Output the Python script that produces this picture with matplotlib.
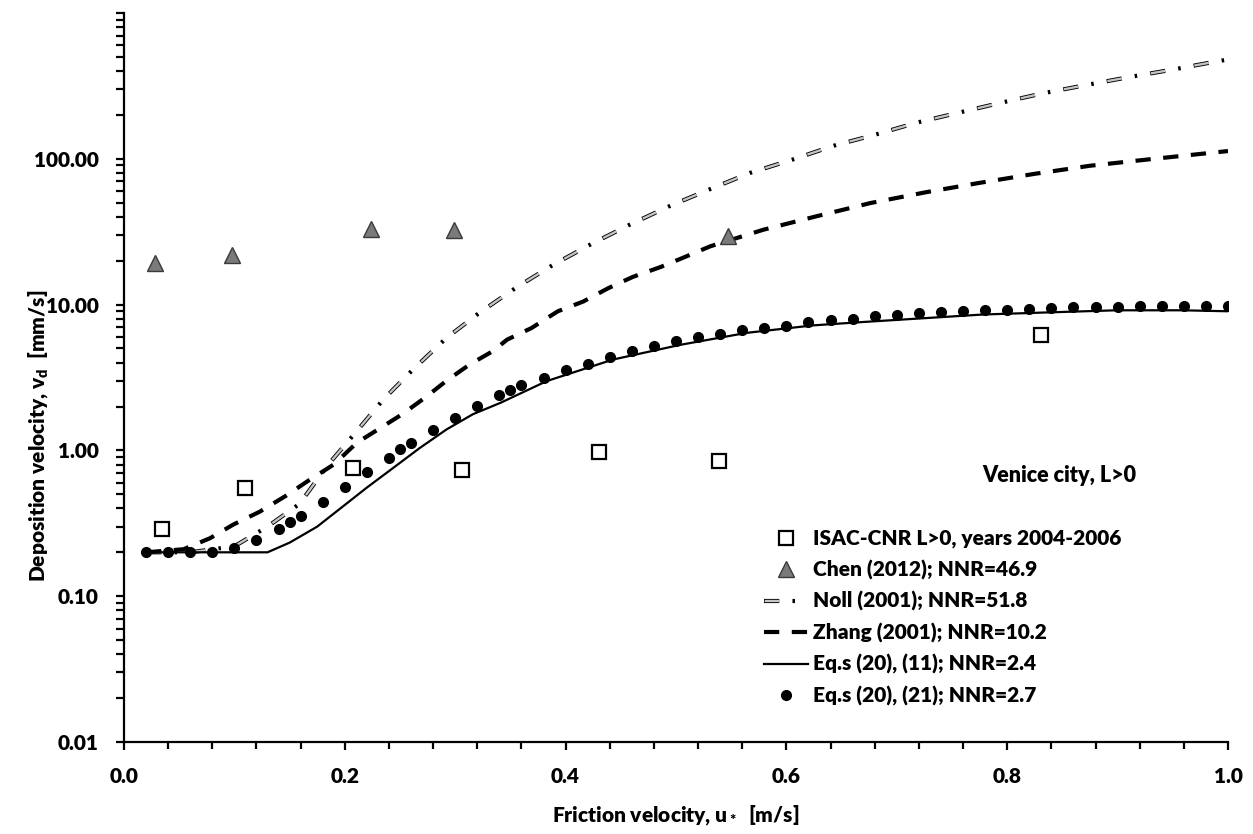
import matplotlib
matplotlib.use("Agg")
import matplotlib.pyplot as plt
import matplotlib.ticker as mticker
from matplotlib.legend_handler import HandlerTuple

plt.rcParams['font.family'] = ['Lato', 'DejaVu Sans']
plt.rcParams['font.weight'] = 'heavy'
plt.rcParams['mathtext.fontset'] = 'custom'
plt.rcParams['mathtext.rm'] = 'Lato:heavy'
plt.rcParams['mathtext.it'] = 'Lato:heavy'
plt.rcParams['mathtext.bf'] = 'Lato:heavy'
plt.rcParams['lines.scale_dashes'] = False

FS = 15
WT = 'heavy'

# ── data ─────────────────────────────────────────────────────────────────────
isac_x = [0.034, 0.110, 0.207, 0.306, 0.430, 0.539, 0.831]
isac_v = [0.29, 0.555, 0.76, 0.73, 0.97, 0.845, 6.15]

chen_x = [0.028, 0.0975, 0.224, 0.299, 0.547]
chen_v = [19.3, 22.0, 33.0, 32.3, 29.4]

noll_x = [0.02, 0.06, 0.10, 0.13, 0.159, 0.185, 0.211, 0.235, 0.262, 0.292,
          0.322, 0.356, 0.389, 0.424, 0.458, 0.495, 0.531, 0.567, 0.605, 0.643,
          0.680, 0.718, 0.757, 0.795, 0.833, 0.872, 0.910, 0.949, 0.988, 1.0]
noll_v = [0.20, 0.20, 0.22, 0.30, 0.43, 0.80, 1.36, 2.24, 3.6, 5.9,
          8.8, 13.2, 18.8, 26.2, 35.3, 47.7, 62, 80, 98.5, 123,
          146, 177, 208, 243, 282, 321, 363, 408, 463, 480]

zhang_x = [0.02, 0.054, 0.078, 0.099, 0.123, 0.147, 0.167, 0.190, 0.211, 0.230,
           0.252, 0.273, 0.292, 0.313, 0.334, 0.347, 0.369, 0.393, 0.416, 0.439,
           0.461, 0.486, 0.508, 0.531, 0.579, 0.627, 0.676, 0.726, 0.774, 0.825,
           0.875, 0.925, 0.973, 1.0]
zhang_v = [0.20, 0.21, 0.25, 0.31, 0.38, 0.49, 0.62, 0.80, 1.13, 1.39,
           1.77, 2.31, 3.0, 3.88, 4.79, 5.75, 6.9, 9.0, 10.5, 13.0,
           15.5, 18.1, 21.2, 25.1, 32.6, 40.3, 49.7, 58.9, 68.2, 78.9,
           89.6, 98.5, 107.6, 113]

eq11_x = [0.02, 0.13, 0.150, 0.175, 0.196, 0.220, 0.244, 0.268, 0.292, 0.316,
          0.341, 0.383, 0.443, 0.504, 0.564, 0.624, 0.665, 0.778, 0.839, 0.899,
          0.959, 1.0]
eq11_v = [0.20, 0.20, 0.233, 0.30, 0.40, 0.556, 0.76, 1.04, 1.39, 1.77,
          2.12, 2.99, 4.2, 5.3, 6.4, 7.2, 7.56, 8.55, 8.85, 9.14,
          9.14, 9.0]

eq21_x = [0.02, 0.04, 0.06, 0.08, 0.10, 0.12, 0.14, 0.15, 0.16, 0.18,
          0.20, 0.22, 0.24, 0.25, 0.26, 0.28, 0.30, 0.32, 0.34, 0.35,
          0.36, 0.38, 0.40, 0.42, 0.44, 0.46, 0.48, 0.50, 0.52, 0.54,
          0.56, 0.58, 0.60, 0.62, 0.64, 0.66, 0.68, 0.70, 0.72, 0.74,
          0.76, 0.78, 0.80, 0.82, 0.84, 0.86, 0.88, 0.90, 0.92, 0.94,
          0.96, 0.98, 1.00]
eq21_v = [0.20, 0.20, 0.20, 0.20, 0.215, 0.243, 0.288, 0.323, 0.355, 0.443,
          0.561, 0.715, 0.89, 1.02, 1.13, 1.39, 1.68, 2.01, 2.39, 2.59,
          2.79, 3.15, 3.55, 3.94, 4.38, 4.77, 5.18, 5.6, 6.0, 6.27,
          6.67, 6.92, 7.18, 7.56, 7.8, 7.98, 8.3, 8.55, 8.78, 8.91,
          9.1, 9.25, 9.25, 9.4, 9.5, 9.63, 9.63, 9.63, 9.84, 9.84,
          9.84, 9.84, 9.84]

labels = ['ISAC-CNR L>0, years 2004-2006',
          'Chen (2012); NNR=46.9',
          'Noll (2001); NNR=51.8',
          'Zhang (2001); NNR=10.2',
          'Eq.s (20), (11); NNR=2.4',
          'Eq.s (20), (21); NNR=2.7']

# ── figure ───────────────────────────────────────────────────────────────────
fig = plt.figure(figsize=(12.53, 8.34), dpi=100)
ax = fig.add_axes([124 / 1253, 92 / 834, 1104 / 1253, 729 / 834])
ax.set_yscale('log')

# Noll: outlined grey dashes + black dots
noll_dark, = ax.plot(noll_x, noll_v, color='black', lw=3.0,
                     linestyle=(0, (11, 9.5, 1.8, 9.5)), zorder=3)
noll_lite, = ax.plot(noll_x, noll_v, color='#c4c4c4', lw=1.7,
                     linestyle=(31.3, (10.6, 21.2)), zorder=3)

zhang, = ax.plot(zhang_x, zhang_v, color='black', lw=3.0,
                 linestyle=(0, (11, 9)), zorder=3)
eq11, = ax.plot(eq11_x, eq11_v, color='black', lw=1.6, zorder=3)
eq21, = ax.plot(eq21_x, eq21_v, 'o', color='black', ms=7, zorder=4)

chen, = ax.plot(chen_x, chen_v, '^', ms=12, markerfacecolor='#7a7a7a',
                markeredgecolor='#3a3a3a', markeredgewidth=1.0,
                linestyle='none', zorder=5)
isac, = ax.plot(isac_x, isac_v, 's', ms=10.5, markerfacecolor='white',
                markeredgecolor='black', markeredgewidth=1.6,
                linestyle='none', zorder=6)

# ── axes ─────────────────────────────────────────────────────────────────────
ax.set_xlim(0, 1.0)
ax.set_ylim(0.01, 1000)

ax.xaxis.set_major_locator(mticker.MultipleLocator(0.2))
ax.xaxis.set_minor_locator(mticker.MultipleLocator(0.04))
ax.xaxis.set_major_formatter(mticker.FormatStrFormatter('%.1f'))

ax.yaxis.set_major_locator(mticker.FixedLocator([0.01, 0.1, 1, 10, 100, 1000]))
ax.yaxis.set_minor_locator(mticker.LogLocator(base=10, subs=range(2, 10), numticks=20))
ax.yaxis.set_minor_formatter(mticker.NullFormatter())


def fmt_y(v, pos):
    return '' if v > 500 else f'{v:.2f}'


ax.yaxis.set_major_formatter(mticker.FuncFormatter(fmt_y))

for s in ['top', 'right']:
    ax.spines[s].set_visible(False)
for s in ['left', 'bottom']:
    ax.spines[s].set_linewidth(1.6)

ax.tick_params(axis='both', which='both', direction='out', width=1.6,
               length=6, colors='black')
ax.tick_params(axis='y', which='major', pad=12, labelsize=FS)
ax.tick_params(axis='x', which='major', pad=12, labelsize=FS)
ax.tick_params(axis='x', which='minor', length=5)
for lab in ax.get_xticklabels() + ax.get_yticklabels():
    lab.set_fontweight(WT)

ax.set_xlabel('Friction velocity, u$_*$  [m/s]', fontsize=FS, fontweight=WT,
              labelpad=12)
ax.set_ylabel('Deposition velocity, v$_\\mathregular{d}$  [mm/s]', fontsize=FS,
              fontweight=WT)
ax.yaxis.set_label_coords(-0.067, 0.42)

ax.text(0.917, 0.366, 'Venice city, L>0', transform=ax.transAxes,
        ha='right', va='center', fontsize=FS + 0.5, fontweight=WT)

ax.legend([isac, chen, (noll_dark, noll_lite), zhang, eq11, eq21], labels,
          handler_map={tuple: HandlerTuple(ndivide=1)},
          loc='center left', bbox_to_anchor=(0.580, 0.171),
          frameon=False, handlelength=2.1, handletextpad=0.25,
          labelspacing=0.55, borderpad=0, borderaxespad=0,
          prop={'weight': WT, 'size': FS})

fig.savefig('out.png', dpi=100, facecolor='white')
